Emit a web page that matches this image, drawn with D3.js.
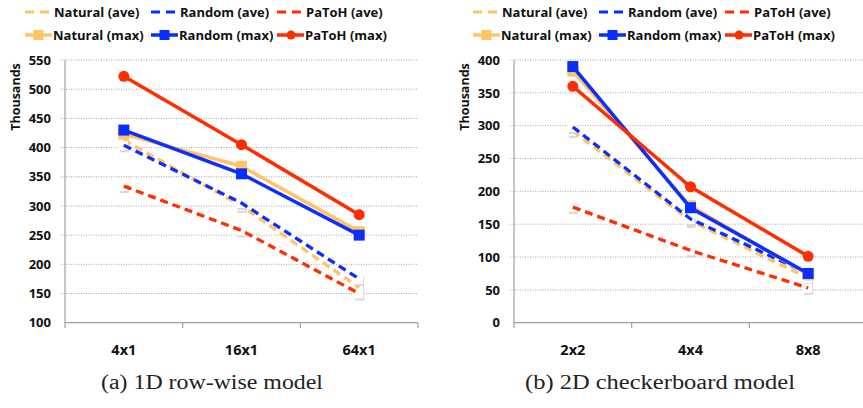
<!DOCTYPE html>
<html>
<head>
<meta charset="utf-8">
<script src="https://cdn.jsdelivr.net/npm/d3@7"></script>
<style>
  body { margin: 0; background: #fff; }
  svg { display: block; }
  .lbl { font-family: "Open Sans", "DejaVu Sans", sans-serif; font-weight: bold; fill: #111; }
  .cap { font-family: "Liberation Serif", "DejaVu Serif", serif; fill: #222; }
</style>
</head>
<body>
<div id="chart"></div>
<script>
// --- data (values in thousands) ---
const seriesNames = ["Natural (ave)", "Random (ave)", "PaToH (ave)", "Natural (max)", "Random (max)", "PaToH (max)"];

const catsA = ["4x1", "16x1", "64x1"];
const natAveA = [413, 300, 160];
const rndAveA = [404, 305, 175];
const patAveA = [334, 258, 150];
const natMaxA = [423, 368, 256];
const rndMaxA = [430, 355, 250];
const patMaxA = [522, 405, 285];
const ticksA = [100, 150, 200, 250, 300, 350, 400, 450, 500, 550];

const catsB = ["2x2", "4x4", "8x8"];
const natAveB = [292, 155, 68];
const rndAveB = [298, 158, 75];
const patAveB = [176, 110, 53];
const natMaxB = [383, 178, 73];
const rndMaxB = [390, 175, 75];
const patMaxB = [360, 207, 101];
const ticksB = [0, 50, 100, 150, 200, 250, 300, 350, 400];

const captions = ["(a) 1D row-wise model", "(b) 2D checkerboard model"];

// --- styling ---
const colors = { nat: "#FFC466", rnd: "#0B2EFF", pat: "#FF2D00" };
const styles = [
  { c: colors.nat, dash: true }, { c: colors.rnd, dash: true }, { c: colors.pat, dash: true },
  { c: colors.nat, marker: "square" }, { c: colors.rnd, marker: "square" }, { c: colors.pat, marker: "circle" }
];

const W = 863, H = 408;
const svg = d3.select("#chart").append("svg").attr("width", W).attr("height", H);

function drawChart(opts) {
  const g = svg.append("g");
  const x = d3.scaleBand().domain(opts.cats).range([opts.x0, opts.x1]).padding(0);
  const y = d3.scaleLinear().domain(opts.domain).range([322.7, 60]);
  const cx = d => x(d) + x.bandwidth() / 2;

  // grid
  g.selectAll(".grid").data(opts.ticks.slice(1)).enter().append("line")
    .attr("x1", opts.x0 - 4).attr("x2", opts.x1)
    .attr("y1", d => y(d)).attr("y2", d => y(d))
    .attr("stroke", "#a8a8a8").attr("stroke-width", 1).attr("stroke-dasharray", "1,1.5");

  // axes lines
  g.append("line").attr("x1", opts.x0).attr("x2", opts.x0).attr("y1", 60).attr("y2", 322.7)
    .attr("stroke", "#a0a0a0").attr("stroke-width", 1.2);
  g.append("line").attr("x1", opts.x0).attr("x2", opts.x1).attr("y1", 322.7).attr("y2", 322.7)
    .attr("stroke", "#a0a0a0").attr("stroke-width", 1.2);
  const bounds = opts.cats.map(c => x(c)).concat([opts.x1]);
  g.selectAll(".xt").data(bounds).enter().append("line")
    .attr("x1", d => d).attr("x2", d => d).attr("y1", 322.7).attr("y2", 328)
    .attr("stroke", "#a0a0a0").attr("stroke-width", 1.2);

  // tick labels
  g.selectAll(".yl").data(opts.ticks).enter().append("text")
    .attr("class", "lbl").attr("x", opts.x0 - 14).attr("y", d => y(d)).attr("dy", "0.36em")
    .attr("text-anchor", "end").style("font-size", "13px").text(d => d);
  g.selectAll(".xl").data(opts.cats).enter().append("text")
    .attr("class", "lbl").attr("x", d => cx(d)).attr("y", 350).attr("dy", "0.36em")
    .attr("text-anchor", "middle").style("font-size", "14.5px").text(d => d);

  g.append("text").attr("class", "lbl")
    .attr("transform", `translate(${opts.x0 - 49},97) rotate(-90)`)
    .attr("text-anchor", "middle").attr("dy", "0.35em").style("font-size", "12.5px").text("Thousands");

  // series
  const line = d3.line().x((d, i) => cx(opts.cats[i])).y(d => y(d));
  opts.series.forEach((vals, si) => {
    const st = styles[si];
    if (st.dash) {
      // white markers with soft grey edge on average series
      g.selectAll(null).data(vals).enter().append("rect")
        .attr("x", (d, i) => cx(opts.cats[i]) - 4).attr("y", d => y(d) - 2)
        .attr("width", 9).attr("height", 9).attr("fill", "#d8d8d8");
      g.selectAll(null).data(vals).enter().append("rect")
        .attr("x", (d, i) => cx(opts.cats[i]) - 5).attr("y", d => y(d) - 4)
        .attr("width", 9).attr("height", 9).attr("fill", "#fff");
      g.append("path").datum(vals).attr("d", line).attr("fill", "none")
        .attr("stroke", st.c).attr("stroke-width", 3.3).attr("stroke-dasharray", "8,5");
    }
  });
  opts.series.forEach((vals, si) => {
    const st = styles[si];
    if (st.dash) return;
    g.append("path").datum(vals).attr("d", line).attr("fill", "none")
      .attr("stroke", st.c).attr("stroke-width", 3.5);
    if (st.marker === "square") {
      g.selectAll(null).data(vals).enter().append("rect")
        .attr("x", (d, i) => cx(opts.cats[i]) - 5.5).attr("y", d => y(d) - 5.5)
        .attr("width", 11).attr("height", 11).attr("fill", st.c);
    } else {
      g.selectAll(null).data(vals).enter().append("circle")
        .attr("cx", (d, i) => cx(opts.cats[i])).attr("cy", d => y(d))
        .attr("r", 5.5).attr("fill", st.c);
    }
  });

  // legend
  const lx = opts.legendX;
  const colX = [0, 126, 252];
  seriesNames.forEach((name, si) => {
    const st = styles[si];
    const row = si < 3 ? 0 : 1;
    const gx = lx + colX[si % 3];
    const gy = row === 0 ? 12 : 35;
    const lg = g.append("g");
    if (st.dash) {
      lg.append("line").attr("x1", gx).attr("x2", gx + 25).attr("y1", gy).attr("y2", gy)
        .attr("stroke", st.c).attr("stroke-width", 3).attr("stroke-dasharray", "9,6");
    } else {
      lg.append("line").attr("x1", gx).attr("x2", gx + 27).attr("y1", gy).attr("y2", gy)
        .attr("stroke", st.c).attr("stroke-width", 3.5);
      if (st.marker === "square") {
        lg.append("rect").attr("x", gx + 8.5).attr("y", gy - 5).attr("width", 10).attr("height", 10).attr("fill", st.c);
      } else {
        lg.append("circle").attr("cx", gx + 14).attr("cy", gy).attr("r", 4.5).attr("fill", st.c);
      }
    }
    lg.append("text").attr("class", "lbl").attr("x", gx + (st.dash ? 29 : 28)).attr("y", gy)
      .attr("dy", "0.36em").style("font-size", "13px").text(name);
  });

  // caption (Computer Modern is wide, so stretch to the original width)
  svg.append("text").attr("class", "cap").attr("x", opts.capX).attr("y", 389)
    .attr("text-anchor", "middle").style("font-size", "20px")
    .attr("textLength", opts.capW).attr("lengthAdjust", "spacingAndGlyphs")
    .text(opts.caption);
}

drawChart({
  cats: catsA, domain: [100, 550], ticks: ticksA, x0: 65, x1: 418,
  series: [natAveA, rndAveA, patAveA, natMaxA, rndMaxA, patMaxA],
  legendX: 25, caption: captions[0], capX: 212, capW: 222
});
drawChart({
  cats: catsB, domain: [0, 400], ticks: ticksB, x0: 514, x1: 867,
  series: [natAveB, rndAveB, patAveB, natMaxB, rndMaxB, patMaxB],
  legendX: 473, caption: captions[1], capX: 660, capW: 270
});
</script>
</body>
</html>
